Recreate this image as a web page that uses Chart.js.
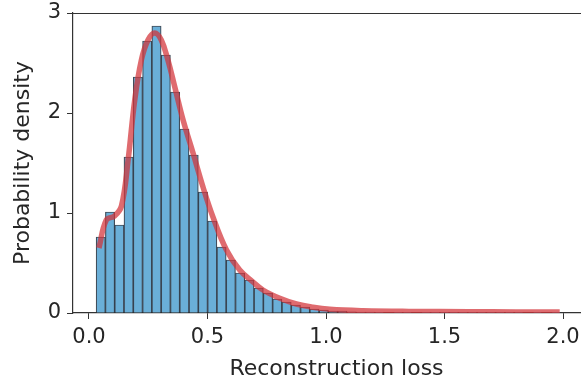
<!DOCTYPE html>
<html>
<head>
<meta charset="utf-8">
<script src="https://cdn.jsdelivr.net/npm/chart.js@4/dist/chart.umd.min.js"></script>
<style>
  html, body { margin: 0; padding: 0; background: #fff; overflow: hidden; }
  #wrap { width: 581px; height: 382px; overflow: hidden; }
</style>
</head>
<body>
<div id="wrap"><canvas id="lossChart" width="600" height="382"></canvas></div>
<script>
// Histogram of reconstruction loss (density), 50 bins
const binStart = 0.03;
const binWidth = 0.0392;
const binDensity = [
    0.76, 1.01, 0.88, 1.56, 2.36, 2.72, 2.87, 2.58, 2.21, 1.84,
    1.58, 1.21, 0.92, 0.66, 0.53, 0.40, 0.33, 0.25, 0.20, 0.14,
    0.11, 0.08, 0.06, 0.04, 0.03, 0.02, 0.018, 0.012, 0.010, 0.008,
    0.006, 0.005, 0.004, 0.003, 0.005, 0.003, 0.002, 0.003, 0.002, 0.002,
    0.001, 0.002, 0.001, 0.001, 0.001, 0.002, 0.000, 0.001, 0.000, 0.001
];

// KDE curve
const kdeX = [0.042, 0.073, 0.108, 0.137, 0.165, 0.193, 0.221, 0.249, 0.277, 0.305,
              0.333, 0.362, 0.397, 0.439, 0.481, 0.523, 0.58, 0.636, 0.692, 0.734,
              0.805, 0.875, 0.945, 1.016, 1.156, 1.35, 1.6, 1.8, 1.986];
const kdeY = [0.65, 0.93, 0.97, 1.07, 1.53, 2.13, 2.53, 2.73, 2.80, 2.73,
              2.53, 2.26, 1.93, 1.60, 1.26, 0.96, 0.63, 0.43, 0.31, 0.23,
              0.147, 0.09, 0.057, 0.037, 0.023, 0.016, 0.013, 0.011, 0.01];

const xTicks = [0, 0.5, 1.0, 1.5, 2.0];

const histPoints = binDensity.map((d, i) => ({ x: binStart + binWidth * (i + 0.5), y: d }));
const kdePoints = kdeX.map((x, i) => ({ x: x, y: kdeY[i] }));

const FONT = 'DejaVu Sans';
const TXT = '#262626';
const AX = '#333333';

// top spine (the right spine falls outside the visible 581px)
const topSpine = {
    id: 'topSpine',
    afterDraw(chart) {
        const { ctx, chartArea } = chart;
        ctx.save();
        ctx.strokeStyle = AX;
        ctx.lineWidth = 1.2;
        ctx.beginPath();
        ctx.moveTo(chartArea.left, Math.round(chartArea.top) + 0.5);
        ctx.lineTo(chartArea.right, Math.round(chartArea.top) + 0.5);
        ctx.stroke();
        ctx.restore();
    }
};

new Chart(document.getElementById('lossChart'), {
    data: {
        datasets: [
            {
                type: 'line',
                data: kdePoints,
                borderColor: 'rgba(210, 50, 55, 0.72)',
                borderWidth: 5.5,
                pointRadius: 0,
                tension: 0.4,
                order: 1
            },
            {
                type: 'bar',
                data: histPoints,
                backgroundColor: '#6aafd8',
                borderColor: 'rgba(30, 45, 60, 0.85)',
                borderWidth: 1.2,
                barPercentage: 1,
                categoryPercentage: 1,
                grouped: false,
                order: 2
            }
        ]
    },
    options: {
        responsive: false,
        devicePixelRatio: 1,
        animation: false,
        layout: { padding: { top: 13, right: 0, left: 0, bottom: 0 } },
        plugins: { legend: { display: false }, tooltip: { enabled: false } },
        scales: {
            x: {
                type: 'linear',
                offset: false,
                min: -0.0675,
                max: 2.156,
                afterBuildTicks: s => { s.ticks = xTicks.map(v => ({ value: v })); },
                afterFit: s => { s.height = 69; s.paddingLeft = 0; s.paddingRight = 0; },
                grid: { display: true, offset: false, drawOnChartArea: false, tickLength: 6, tickColor: AX },
                border: { display: true, color: AX, width: 1.2 },
                ticks: { padding: 6, maxRotation: 0, color: TXT, font: { family: FONT, size: 21 }, callback: v => v.toFixed(1) },
                title: { display: true, text: 'Reconstruction loss', color: TXT, font: { family: FONT, size: 22, lineHeight: 1.2 }, padding: { top: 0, bottom: 0 } }
            },
            y: {
                type: 'linear',
                min: 0,
                max: 3,
                afterFit: s => { s.width = 73; s.paddingTop = 0; s.paddingBottom = 0; },
                grid: { display: true, drawOnChartArea: false, tickLength: 6, tickColor: AX },
                border: { display: true, color: AX, width: 1.2 },
                ticks: { stepSize: 1, padding: 6, color: TXT, font: { family: FONT, size: 21 } },
                title: { display: true, text: 'Probability density', color: TXT, font: { family: FONT, size: 22, lineHeight: 1.2 }, padding: { top: 10, bottom: 0 } }
            }
        }
    },
    plugins: [topSpine]
});
</script>
</body>
</html>
